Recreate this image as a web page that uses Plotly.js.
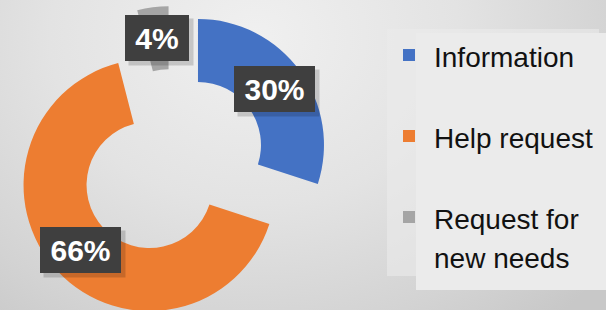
<!DOCTYPE html>
<html>
<head>
<meta charset="utf-8">
<script src="https://cdn.plot.ly/plotly-3.0.1.min.js"></script>
<style>
  html, body { margin: 0; padding: 0; width: 606px; height: 310px; overflow: hidden; }
  body { background: radial-gradient(ellipse 75% 120% at 42% 12%, #f0f0f0 0%, #e3e3e3 45%, #d3d3d3 80%, #c8c8c8 100%); position: relative; }
  #chart { position: absolute; left: 0; top: -10px; width: 606px; height: 340px; }
</style>
</head>
<body>
<div id="chart"></div>
<script>
// ---- data ----
const categories = ['Information', 'Help request', 'Request for new needs'];
const legendLines = [['Information'], ['Help request'], ['Request for', 'new needs']];
const values = [30, 66, 4];
const colors = ['#4472C4', '#ED7D31', '#A5A5A5'];

// ---- layout parameters ----
const W = 606, H = 340;
const pull = 0.25, hole = 0.5;
const domX = [15 / W, 330 / W];
const domY = [9 / H, 324 / H];

const total = values.reduce((a, b) => a + b, 0);

// legend labels (two lines each so that item spacing matches)
const legendLabels = legendLines.map(lines => {
  const l = lines.length === 1 ? [lines[0], '\u00a0'] : lines;
  return l.map(s => '<span style="font-size:28px">' + s + '</span>').join('<br>');
});

// pie geometry as Plotly computes it
const cx = W * (domX[0] + domX[1]) / 2;
const cy = H * (1 - (domY[0] + domY[1]) / 2);
const R = Math.min(W * (domX[1] - domX[0]), H * (domY[1] - domY[0])) / (2 * (1 + pull));

const annotations = [];
let cum = 0;
values.forEach((v, i) => {
  const mid = (cum + v / 2) / total * 2 * Math.PI;
  cum += v;
  const dist = R * (pull + (1 + hole) / 2);
  const px = cx + dist * Math.sin(mid);
  const py = cy - dist * Math.cos(mid);
  const txt = Math.round(v / total * 100) + '%';
  const bw = 17 * txt.length + 20;
  // shadow
  annotations.push({
    xref: 'paper', yref: 'paper', x: (px + 4) / W, y: 1 - (py + 4) / H,
    xanchor: 'center', yanchor: 'middle',
    text: '\u00a0', showarrow: false, width: bw, height: 36, borderpad: 5,
    bgcolor: 'rgba(0,0,0,0.16)', font: {size: 30}
  });
  annotations.push({
    xref: 'paper', yref: 'paper', x: px / W, y: 1 - py / H,
    xanchor: 'center', yanchor: 'middle',
    text: '<b>' + txt + '</b>', showarrow: false, width: bw, height: 36, borderpad: 5,
    bgcolor: '#3f3f3f', borderwidth: 0,
    font: {family: 'Liberation Sans, Arial, sans-serif', size: 30, color: '#ffffff'}
  });
});

const trace = {
  type: 'pie',
  labels: legendLabels,
  values: values,
  marker: {colors: colors, line: {width: 0}},
  hole: hole,
  pull: values.map(() => pull),
  sort: false,
  direction: 'clockwise',
  rotation: 0,
  textinfo: 'none',
  hoverinfo: 'skip',
  domain: {x: domX, y: domY}
};

const layout = {
  width: W, height: H,
  margin: {l: 0, r: 0, t: 0, b: 0},
  paper_bgcolor: 'rgba(0,0,0,0)',
  plot_bgcolor: 'rgba(0,0,0,0)',
  showlegend: true,
  legend: {
    x: 384 / W, xanchor: 'left',
    y: 1 - 39 / H, yanchor: 'top',
    bgcolor: 'rgba(0,0,0,0)',
    itemwidth: 40,
    valign: 'top',
    font: {family: 'Liberation Sans, Arial, sans-serif', size: 30, color: '#111111'}
  },
  shapes: [
    {type: 'rect', xref: 'paper', yref: 'paper', x0: 387 / W, x1: 599 / W,
     y0: 1 - 286 / H, y1: 1 - 39 / H, fillcolor: 'rgba(235,235,235,0.6)', line: {width: 0}, layer: 'below'},
    {type: 'rect', xref: 'paper', yref: 'paper', x0: 416 / W, x1: 1,
     y0: 1 - 300 / H, y1: 1 - 43 / H, fillcolor: '#ebebeb', line: {width: 0}, layer: 'below'}
  ],
  annotations: annotations
};

Plotly.newPlot('chart', [trace], layout, {staticPlot: true, displayModeBar: false});
</script>
</body>
</html>
